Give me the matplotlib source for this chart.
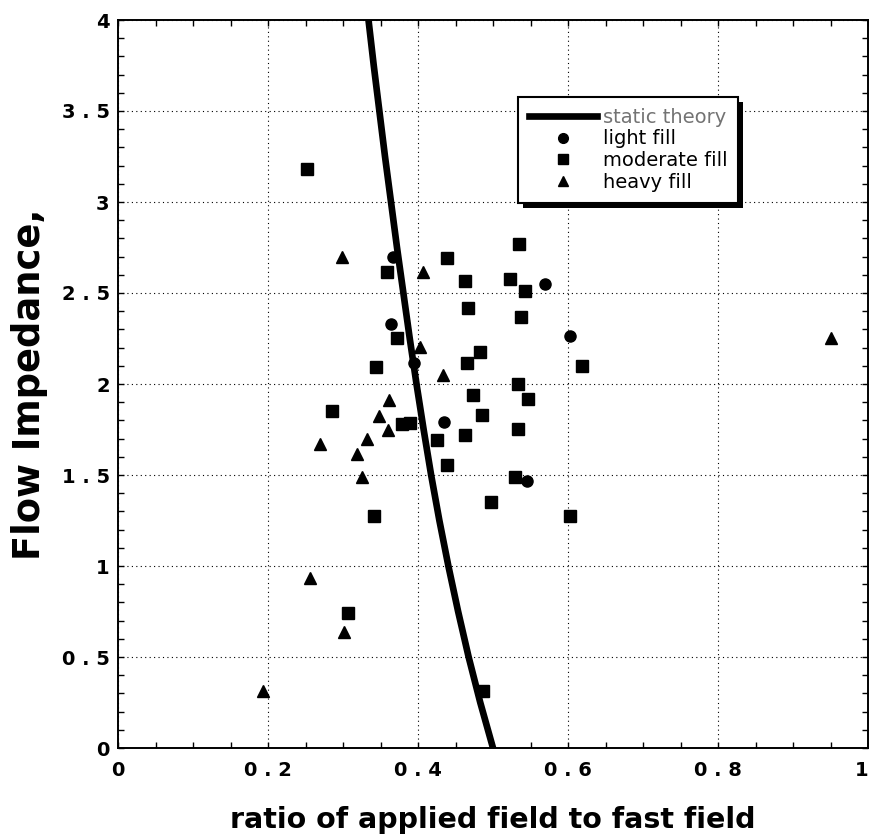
import matplotlib
matplotlib.use('Agg')
import matplotlib.pyplot as plt
from matplotlib.ticker import FixedLocator, MultipleLocator
from matplotlib.lines import Line2D
from matplotlib.patches import Rectangle

# static theory curve
theory_y = [0.0, 0.25, 0.5, 0.75, 1.0, 1.25, 1.5, 1.75, 2.0,
            2.25, 2.5, 2.75, 3.0, 3.25, 3.5, 3.75, 4.0]
theory_x = [0.500, 0.483, 0.4675, 0.4535, 0.4405, 0.4285, 0.4175, 0.4075, 0.398,
            0.389, 0.3805, 0.372, 0.364, 0.356, 0.3485, 0.341, 0.334]

light_x = [0.366, 0.364, 0.395, 0.570, 0.602, 0.434, 0.545]
light_y = [2.70, 2.33, 2.115, 2.55, 2.264, 1.79, 1.467]

moderate_x = [0.252, 0.358, 0.439, 0.534, 0.463, 0.523, 0.543, 0.467, 0.537, 0.372,
              0.344, 0.465, 0.483, 0.533, 0.618, 0.473, 0.546, 0.485, 0.533, 0.463,
              0.425, 0.378, 0.389, 0.286, 0.439, 0.529, 0.497, 0.341, 0.603, 0.306,
              0.486]
moderate_y = [3.18, 2.615, 2.69, 2.77, 2.566, 2.577, 2.511, 2.418, 2.368, 2.253,
              2.093, 2.115, 2.176, 2.0, 2.099, 1.94, 1.918, 1.83, 1.753, 1.72,
              1.692, 1.78, 1.786, 1.852, 1.555, 1.489, 1.352, 1.275, 1.275, 0.742,
              0.313]

heavy_x = [0.298, 0.406, 0.403, 0.433, 0.361, 0.348, 0.360, 0.332, 0.269, 0.318,
           0.325, 0.256, 0.301, 0.193, 0.951]
heavy_y = [2.70, 2.615, 2.203, 2.05, 1.912, 1.824, 1.747, 1.698, 1.67, 1.615,
           1.489, 0.934, 0.637, 0.313, 2.253]

x_ticks = [0, 0.2, 0.4, 0.6, 0.8, 1.0]
x_tick_labels = ['0', '0 . 2', '0 . 4', '0 . 6', '0 . 8', '1']
y_ticks = [0, 0.5, 1, 1.5, 2, 2.5, 3, 3.5, 4]
y_tick_labels = ['0', '0 . 5', '1', '1 . 5', '2', '2 . 5', '3', '3 . 5', '4']

legend_labels = ['static theory', 'light fill', 'moderate fill', 'heavy fill']

fig = plt.figure(figsize=(8.69, 8.38), dpi=100)
ax = fig.add_axes([118 / 869, 90 / 838, 750 / 869, 728 / 838])

ax.plot(theory_x, theory_y, color='black', lw=4.8, solid_capstyle='round',
        solid_joinstyle='round', zorder=3)
ax.plot(light_x, light_y, 'o', color='black', ms=8, zorder=4)
ax.plot(moderate_x, moderate_y, 's', color='black', ms=8.5, zorder=4)
ax.plot(heavy_x, heavy_y, '^', color='black', ms=9, zorder=4)

ax.set_xlim(0, 1)
ax.set_ylim(0, 4)

ax.xaxis.set_major_locator(FixedLocator(x_ticks))
ax.yaxis.set_major_locator(FixedLocator(y_ticks))
ax.xaxis.set_minor_locator(MultipleLocator(0.05))
ax.yaxis.set_minor_locator(MultipleLocator(0.1))
ax.set_xticklabels(x_tick_labels, fontsize=14, fontweight='bold', family='DejaVu Sans')
ax.set_yticklabels(y_tick_labels, fontsize=14, fontweight='bold', family='DejaVu Sans')
ax.tick_params(which='both', direction='in', top=True, right=True, color='black', width=1)
ax.tick_params(which='major', length=4)
ax.tick_params(axis='x', which='major', pad=9)
ax.tick_params(axis='y', which='major', pad=6)
ax.tick_params(which='minor', length=4)
ax.get_xticklabels()[-1].set_ha('right')

ax.grid(True, which='major', color='black', lw=0.8, linestyle=(0, (1, 3)))
for s in ax.spines.values():
    s.set_linewidth(1.4)

ax.set_xlabel('ratio of applied field to fast field', fontsize=20.5, fontweight='bold',
              family='DejaVu Sans', labelpad=19)
ax.set_ylabel('Flow Impedance,', fontsize=26.5, fontweight='bold',
              family='DejaVu Sans', labelpad=10)

handles = [Line2D([], [], color='black', lw=4.8),
           Line2D([], [], marker='o', ls='none', color='black', ms=7),
           Line2D([], [], marker='s', ls='none', color='black', ms=7),
           Line2D([], [], marker='^', ls='none', color='black', ms=7.5)]
leg = ax.legend(handles, legend_labels, loc='upper left',
                bbox_to_anchor=((518 - 118) / 750, (748 - 97) / 728),
                borderaxespad=0, frameon=True, fancybox=False, framealpha=1,
                edgecolor='black', borderpad=0.55, handlelength=3.5,
                handletextpad=0.3, labelspacing=0.14,
                prop={'family': 'DejaVu Sans', 'size': 14})
leg.get_frame().set_linewidth(1.5)
leg.get_texts()[0].set_color('0.45')

# drop shadow behind the legend box
fig.canvas.draw()
bb = leg.get_frame().get_window_extent()
inv = ax.transAxes.inverted()
(x0, y0), (x1, y1) = inv.transform([[bb.x0 + 5, bb.y0 - 5], [bb.x1 + 5, bb.y1 - 5]])
ax.add_patch(Rectangle((x0, y0), x1 - x0, y1 - y0, transform=ax.transAxes,
                       facecolor='black', edgecolor='none', zorder=4.9, clip_on=False))

fig.savefig('out.png', dpi=100)
